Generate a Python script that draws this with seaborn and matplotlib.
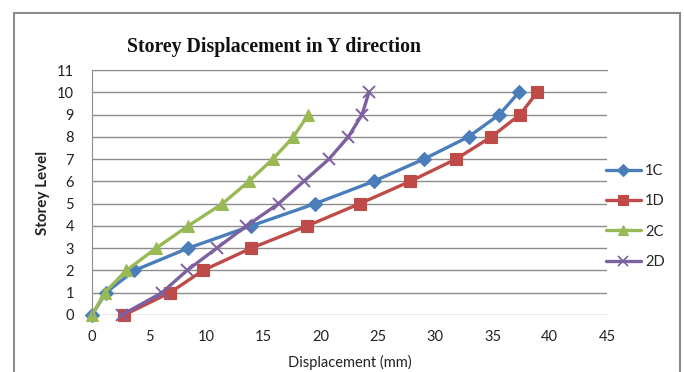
import matplotlib
matplotlib.use("Agg")
import matplotlib.pyplot as plt
import seaborn as sns
import pandas as pd
from matplotlib.patches import Rectangle
from matplotlib.lines import Line2D

# Storey displacement in Y direction (mm) per storey level
levels = list(range(11))
disp_1c = [0, 1.2, 3.7, 8.4, 13.9, 19.5, 24.6, 29.0, 32.9, 35.6, 37.3]
disp_1d = [2.8, 6.8, 9.7, 13.9, 18.8, 23.4, 27.8, 31.8, 34.9, 37.4, 38.9]
disp_2c = [0, 1.1, 3.0, 5.6, 8.4, 11.4, 13.7, 15.8, 17.6, 18.9]
disp_2d = [2.6, 6.1, 8.3, 10.9, 13.5, 16.3, 18.5, 20.7, 22.4, 23.6, 24.2]
series_names = ["1C", "1D", "2C", "2D"]
x_ticks = [0, 5, 10, 15, 20, 25, 30, 35, 40, 45]
y_ticks = list(range(12))

sns.set_style("white")
plt.rcParams["font.family"] = ["Lato", "DejaVu Sans"]

colors = {"1C": "#4A7EBB", "1D": "#BE4B48", "2C": "#98B954", "2D": "#7D60A0"}
markers = {"1C": "D", "1D": "s", "2C": "^", "2D": "x"}
msizes = {"1C": 7, "1D": 8.5, "2C": 9, "2D": 8}

frames = []
for name, vals in zip(series_names, [disp_1c, disp_1d, disp_2c, disp_2d]):
    frames.append(pd.DataFrame({"Displacement": vals,
                                "Level": levels[:len(vals)],
                                "Series": name}))
df = pd.concat(frames, ignore_index=True)

fig = plt.figure(figsize=(6.84, 3.72), dpi=100)
ax = fig.add_axes([92 / 684, 1 - 315 / 372, (607 - 92) / 684, (315 - 70) / 372])

for name in series_names:
    sub = df[df["Series"] == name]
    sns.lineplot(data=sub, x="Displacement", y="Level", ax=ax,
                 color=colors[name], marker=markers[name],
                 markersize=msizes[name], linewidth=2.4,
                 markeredgecolor=colors[name],
                 markeredgewidth=1.4 if name == "2D" else 0.8,
                 estimator=None, sort=False, legend=False)

ax.set_xlim(0, 45)
ax.set_ylim(0, 11)
ax.set_xticks(x_ticks)
ax.set_yticks(y_ticks)
ax.tick_params(axis="both", labelsize=10.5, colors="#222222", length=0)
ax.tick_params(axis="x", pad=11)
ax.tick_params(axis="y", pad=13)
ax.yaxis.grid(True, color="#8C8C8C", linewidth=1.0)
ax.xaxis.grid(False)
ax.set_axisbelow(True)
for side in ["right", "bottom"]:
    ax.spines[side].set_visible(False)
ax.spines["left"].set_color("#8C8C8C")
ax.spines["top"].set_color("#8C8C8C")
for line in ax.lines:
    line.set_clip_on(False)

ax.set_xlabel("Displacement (mm)", fontsize=10.5, color="#222222", labelpad=8)
ax.set_ylabel("Storey Level", fontsize=11, fontweight="bold", color="#222222")
ax.yaxis.set_label_coords((50 - 92) / 515, 0.5)

fig.text(274 / 684, 1 - 47 / 372, "Storey Displacement in Y direction",
         ha="center", va="center", fontsize=14.2, fontweight="bold",
         family=["Liberation Serif", "DejaVu Serif"], color="#111111")

handles = [Line2D([], [], color=colors[n], marker=markers[n],
                  markersize=msizes[n] * 0.85, linewidth=2.4,
                  markeredgewidth=1.2 if n == "2D" else 0.8)
           for n in series_names]
fig.legend(handles, series_names, loc="upper left",
           bbox_to_anchor=(600 / 684, 1 - 158 / 372), frameon=False,
           fontsize=10.5, handlelength=2.4, handletextpad=0.3,
           labelspacing=1.12, borderaxespad=0)

fig.patches.append(Rectangle((13.5 / 684, -0.1), (680 - 13.5) / 684,
                             1.1 - 13 / 372, transform=fig.transFigure,
                             fill=False, edgecolor="#8C8C8C", linewidth=1.5))

fig.savefig("out.png", dpi=100)
